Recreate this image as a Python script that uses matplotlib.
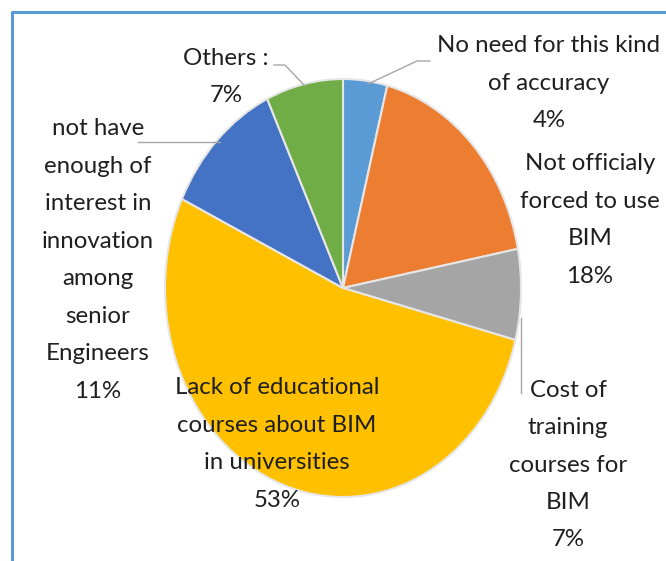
import matplotlib
matplotlib.use("Agg")
import matplotlib.pyplot as plt
from matplotlib.lines import Line2D

W, H = 666, 561

labels = ["No need for this kind\nof accuracy",
          "Not officialy\nforced to use\nBIM",
          "Cost of\ntraining\ncourses for\nBIM",
          "Lack of educational\ncourses about BIM\nin universities",
          "not have\nenough of\ninterest in\ninnovation\namong\nsenior\nEngineers",
          "Others :"]
values = [4, 18, 7, 53, 11, 7]
colors = ["#5B9BD5", "#ED7D31", "#A5A5A5", "#FFC000", "#4472C4", "#70AD47"]

plt.rcParams['font.family'] = ['Lato', 'DejaVu Sans']

fig = plt.figure(figsize=(W / 100, H / 100), dpi=100)

def fx(x):
    return x / W

def fy(y):
    return 1 - y / H

cx, cy, rx, ry = 343, 288, 178, 209
ax = fig.add_axes([fx(cx - rx), fy(cy + ry), 2 * rx / W, 2 * ry / H])
ax.pie(values, colors=colors, startangle=90, counterclock=False, radius=1,
       wedgeprops=dict(edgecolor="#e6e6e6", linewidth=1.5))
ax.set_aspect('auto')
ax.set_xlim(-1, 1)
ax.set_ylim(-1, 1)
ax.axis('off')

# label positions (pixel centres)
pos = [(549, 83), (590, 220), (568, 465), (277, 444), (98, 260), (226, 77)]
tcol = "#1f1f1f"
for lab, v, (x, y) in zip(labels, values, pos):
    fig.text(fx(x), fy(y), f"{lab}\n{v}%", ha='center', va='center',
             fontsize=17.3, color=tcol, linespacing=1.97)

# leader lines
lc = "#a6a6a6"
leaders = [
    [(368, 84), (417, 61), (430, 61)],
    [(305, 86), (285, 65), (274, 65)],
    [(220, 142), (138, 142)],
    [(521, 318), (521, 393)],
]
for pts in leaders:
    xs = [fx(p[0]) for p in pts]
    ys = [fy(p[1]) for p in pts]
    fig.add_artist(Line2D(xs, ys, color=lc, lw=1.0, transform=fig.transFigure))

# frame border (left and top edges visible)
bc = "#5B9BD5"
fig.add_artist(Line2D([fx(12), fx(12), fx(W + 5)], [fy(H + 5), fy(12), fy(12)],
                      color=bc, lw=2.2, transform=fig.transFigure))

fig.savefig("out.png", dpi=100)
